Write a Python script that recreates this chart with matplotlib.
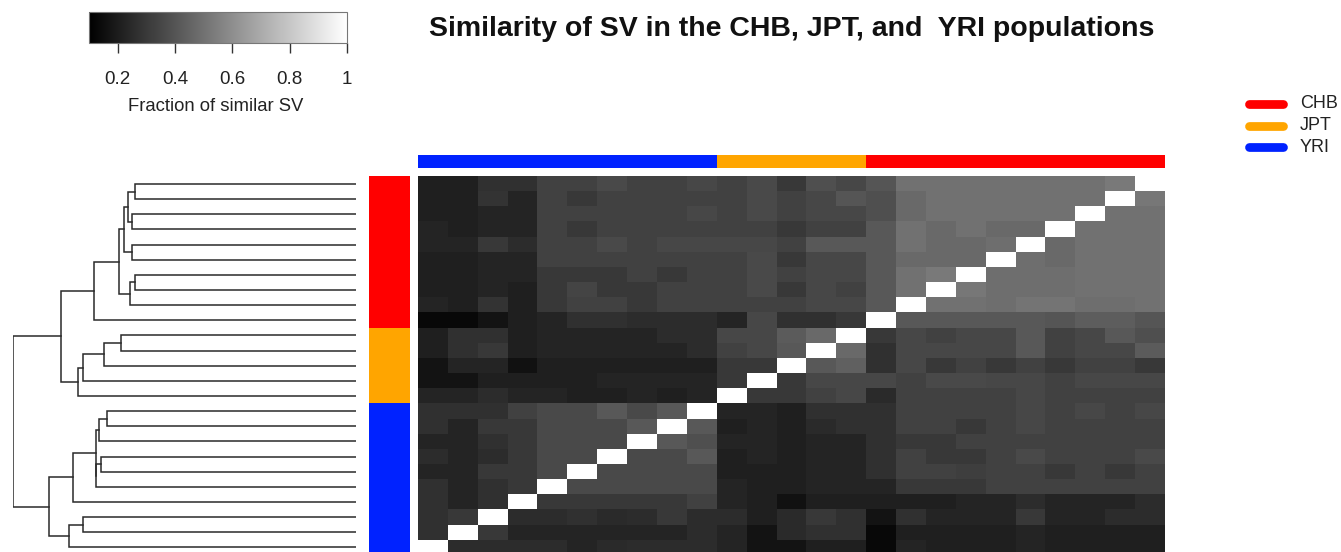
import numpy as np
import matplotlib
matplotlib.use("Agg")
import matplotlib.pyplot as plt
from matplotlib.colors import LinearSegmentedColormap, to_rgb
from matplotlib.lines import Line2D

plt.rcParams['font.family'] = ['Liberation Sans', 'DejaVu Sans']

# ---------------- data ----------------
title = "Similarity of SV in the CHB, JPT, and  YRI populations"
key_label = "Fraction of similar SV"
key_ticks = [0.2, 0.4, 0.6, 0.8, 1.0]
key_ticklabels = ["0.2", "0.4", "0.6", "0.8", "1"]
vmin, vmax = 0.1, 1.0

populations = ["CHB", "JPT", "YRI"]
pop_colors = {"CHB": "#FF0000", "JPT": "#FFA500", "YRI": "#0022FF"}
# population of each row (top to bottom); columns are shown in reverse order
row_pops = ["CHB"] * 10 + ["JPT"] * 5 + ["YRI"] * 10

# similarity matrix as displayed (rows top->bottom, columns left->right)
sim_rows = [
    [.21,.21,.27,.27,.33,.33,.36,.33,.33,.35,.33,.36,.30,.38,.35,.40,.50,.50,.50,.50,.50,.50,.50,.53,1.0],
    [.21,.21,.28,.23,.33,.30,.33,.33,.33,.33,.33,.36,.33,.35,.40,.38,.47,.50,.50,.50,.50,.50,.50,1.0,.52],
    [.21,.21,.23,.23,.33,.33,.33,.33,.33,.35,.33,.36,.33,.35,.35,.38,.47,.50,.50,.50,.50,.50,1.0,.50,.50],
    [.23,.21,.23,.23,.33,.30,.33,.33,.33,.33,.33,.33,.30,.33,.33,.41,.50,.47,.50,.47,.47,1.0,.50,.50,.50],
    [.23,.23,.30,.26,.33,.33,.36,.33,.35,.35,.35,.35,.33,.41,.41,.41,.50,.47,.47,.49,1.0,.47,.50,.50,.50],
    [.21,.21,.23,.23,.33,.33,.33,.33,.33,.33,.33,.36,.30,.35,.35,.41,.47,.47,.47,1.0,.49,.47,.50,.50,.50],
    [.21,.21,.23,.23,.30,.30,.30,.33,.30,.33,.33,.36,.33,.35,.35,.41,.50,.53,1.0,.49,.49,.49,.50,.50,.50],
    [.21,.21,.23,.21,.30,.34,.30,.30,.33,.33,.33,.36,.30,.35,.33,.41,.50,1.0,.52,.49,.49,.49,.50,.50,.50],
    [.23,.21,.28,.21,.30,.33,.33,.30,.33,.33,.33,.33,.33,.35,.35,.41,1.0,.50,.50,.49,.51,.51,.49,.49,.50],
    [.13,.13,.17,.21,.23,.27,.27,.26,.26,.26,.23,.35,.27,.27,.30,1.0,.41,.41,.41,.41,.41,.40,.43,.43,.40],
    [.21,.27,.27,.21,.23,.23,.23,.23,.26,.26,.35,.35,.42,.47,1.0,.30,.35,.33,.35,.35,.41,.33,.35,.41,.38],
    [.21,.27,.30,.21,.23,.23,.23,.23,.23,.26,.33,.35,.41,1.0,.47,.27,.35,.35,.35,.35,.41,.33,.35,.35,.42],
    [.17,.23,.23,.16,.21,.21,.21,.21,.21,.21,.30,.30,1.0,.41,.44,.27,.35,.30,.33,.30,.33,.30,.33,.33,.30],
    [.17,.17,.21,.21,.21,.21,.23,.23,.23,.23,.30,1.0,.30,.35,.35,.35,.33,.36,.36,.35,.35,.33,.35,.35,.35],
    [.23,.23,.26,.23,.23,.21,.21,.23,.21,.23,1.0,.30,.30,.33,.35,.25,.33,.33,.33,.33,.35,.33,.33,.33,.33],
    [.27,.27,.27,.33,.36,.36,.41,.36,.41,1.0,.23,.23,.21,.27,.27,.27,.33,.33,.33,.33,.35,.33,.35,.33,.35],
    [.27,.23,.30,.30,.36,.36,.36,.41,1.0,.41,.21,.23,.21,.25,.27,.27,.33,.33,.30,.33,.35,.33,.33,.33,.33],
    [.23,.23,.27,.30,.36,.36,.36,1.0,.41,.38,.23,.23,.21,.23,.23,.27,.30,.30,.33,.33,.33,.33,.33,.33,.33],
    [.26,.23,.26,.30,.36,.36,1.0,.36,.36,.41,.21,.23,.21,.23,.23,.27,.33,.30,.30,.33,.36,.33,.33,.33,.36],
    [.23,.23,.30,.30,.36,1.0,.36,.36,.36,.36,.21,.21,.21,.23,.23,.27,.33,.33,.32,.33,.33,.30,.33,.30,.33],
    [.27,.23,.27,.30,1.0,.36,.36,.36,.36,.36,.23,.21,.21,.23,.23,.23,.30,.30,.30,.33,.33,.33,.33,.33,.33],
    [.27,.23,.27,1.0,.30,.30,.30,.30,.30,.33,.23,.21,.16,.21,.21,.21,.21,.21,.23,.23,.26,.23,.23,.23,.26],
    [.27,.30,1.0,.26,.26,.27,.25,.26,.30,.26,.26,.21,.25,.30,.27,.17,.27,.23,.23,.23,.30,.23,.23,.26,.26],
    [.27,1.0,.30,.23,.23,.23,.23,.23,.23,.26,.23,.17,.25,.27,.27,.13,.21,.21,.21,.21,.23,.21,.21,.21,.21],
    [1.0,.26,.26,.26,.26,.23,.25,.26,.26,.26,.23,.17,.17,.21,.21,.13,.23,.21,.21,.21,.23,.21,.21,.21,.21],
]

# row dendrogram: merges (child_a, child_b, height); leaves 0..24, merge k -> id 25+k
merges = [
    (0, 1, 0.644), (2, 3, 0.654), (25, 26, 0.664), (4, 5, 0.654), (27, 28, 0.675),
    (6, 7, 0.644), (30, 8, 0.659), (29, 31, 0.690), (32, 9, 0.763),
    (10, 11, 0.686), (34, 12, 0.734), (35, 13, 0.797), (36, 14, 0.810),
    (33, 37, 0.861),
    (15, 16, 0.727), (39, 17, 0.748), (18, 19, 0.743), (41, 20, 0.757),
    (40, 42, 0.759), (43, 21, 0.825), (22, 23, 0.795), (45, 24, 0.836),
    (44, 46, 0.894), (38, 47, 1.0),
]

# ---------------- figure ----------------
W, H = 1341, 552
fig = plt.figure(figsize=(W / 100, H / 100), dpi=100)
fig.patch.set_facecolor("white")


def add_ax(x0, y0, x1, y1):
    return fig.add_axes([x0 / W, 1 - y1 / H, (x1 - x0) / W, (y1 - y0) / H])


n = len(sim_rows)
M = np.array(sim_rows)
cmap = LinearSegmentedColormap.from_list("bw", ["#000000", "#FFFFFF"], N=256)

hm_top, hm_bot = 176.5, 555.0

# heatmap
ax = add_ax(418, hm_top, 1165, hm_bot)
im = ax.imshow(M, cmap=cmap, vmin=vmin, vmax=vmax, aspect="auto",
               interpolation="nearest", extent=(0, n, n, 0))
ax.set_axis_off()

# row side colours
row_rgb = np.array([[to_rgb(pop_colors[p])] for p in row_pops])
axr = add_ax(369, hm_top, 410, hm_bot)
axr.imshow(row_rgb, aspect="auto", interpolation="nearest", extent=(0, 1, n, 0))
axr.set_axis_off()

# column side colours (columns in reverse row order)
col_rgb = np.array([[to_rgb(pop_colors[p]) for p in row_pops[::-1]]])
axc = add_ax(418, 155, 1165, 168.5)
axc.imshow(col_rgb, aspect="auto", interpolation="nearest", extent=(0, n, 1, 0))
axc.set_axis_off()

# dendrogram
axd = add_ax(13, hm_top, 356, hm_bot)
pos = {i: (0.0, i + 0.5) for i in range(n)}
for k, (a, b, h) in enumerate(merges):
    ha, ya = pos[a]
    hb, yb = pos[b]
    axd.plot([ha, h, h, hb], [ya, ya, yb, yb], color="#2a2a2a", lw=1.1,
             solid_joinstyle="miter")
    pos[n + k] = (h, (ya + yb) / 2)
axd.set_xlim(1.0, 0.0)
axd.set_ylim(n, 0)
axd.set_axis_off()

# colour key
cax = add_ax(89, 12, 347, 43)
cb = fig.colorbar(im, cax=cax, orientation="horizontal")
cb.outline.set_edgecolor("#777777")
cb.outline.set_linewidth(0.8)
cb.set_ticks(key_ticks)
cb.set_ticklabels(key_ticklabels)
cax.tick_params(axis="x", length=7, width=1.0, color="#333333", pad=13.5,
                labelsize=13.5, labelcolor="#222222")
fig.text(216 / W, 1 - 106.5 / H, key_label, ha="center", va="center",
         fontsize=13.3, color="#222222")

# title
fig.text(792 / W, 1 - 29 / H, title, ha="center", va="center",
         fontsize=20.5, fontweight="bold", color="#111111")

# legend
leg_y = [104, 126, 147]
for p, y in zip(populations, leg_y):
    fig.add_artist(Line2D([1249 / W, 1283 / W], [1 - y / H, 1 - y / H],
                          transform=fig.transFigure, color=pop_colors[p],
                          lw=6.3, solid_capstyle="round"))
    fig.text(1300 / W, 1 - y / H, p, ha="left", va="center",
             fontsize=13, color="#222222")

fig.savefig("out.png", dpi=100, facecolor="white")
